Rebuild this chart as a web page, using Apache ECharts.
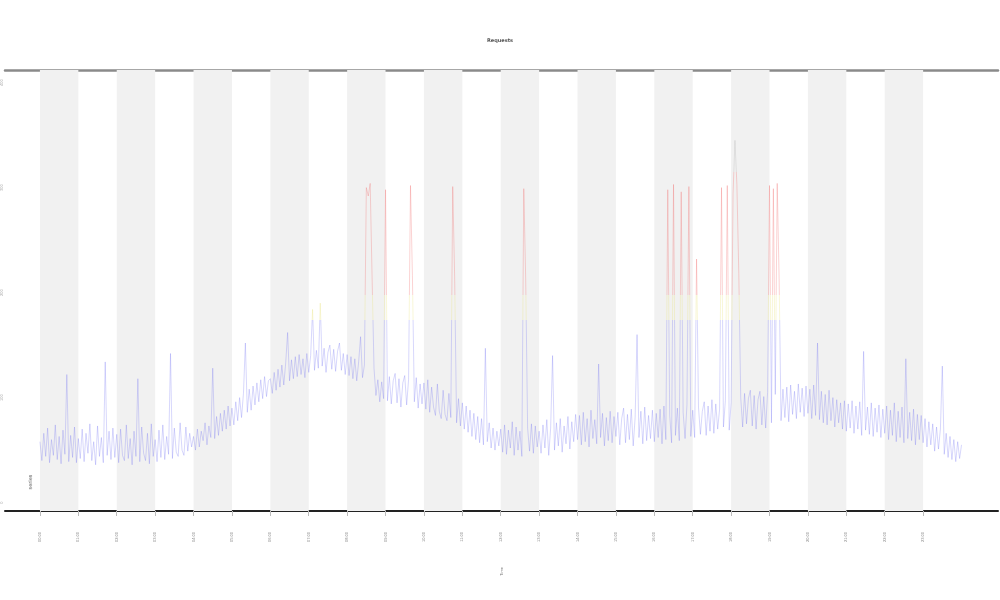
<!DOCTYPE html>
<html>
<head>
<meta charset="utf-8">
<script src="https://cdn.jsdelivr.net/npm/echarts@6/dist/echarts.min.js"></script>
<style>html,body{margin:0;padding:0;background:#fff}#c{width:1000px;height:600px}</style>
</head>
<body>
<div id="c"></div>
<script>
// time step between samples (hours)
const STEP = 0.05;
// sampled values, one row per hour (20 samples each), plus the final sample at 24h
const values = [
  58, 40, 66, 44, 71, 38, 60, 45, 74, 41, 63, 37, 69, 46, 122, 39, 64, 43, 72, 38,
  61, 42, 70, 39, 66, 47, 75, 40, 58, 36, 73, 44, 62, 38, 134, 45, 68, 41, 71, 43,
  65, 38, 70, 45, 40, 74, 42, 61, 36, 68, 44, 118, 39, 72, 47, 40, 66, 37, 75, 44,
  60, 39, 69, 43, 74, 41, 63, 46, 142, 42, 71, 48, 44, 76, 50, 45, 72, 49, 66, 53,
  63, 50, 70, 53, 68, 59, 76, 55, 73, 62, 128, 61, 82, 64, 85, 68, 88, 70, 92, 73,
  90, 74, 96, 78, 100, 81, 104, 152, 86, 108, 88, 111, 93, 114, 96, 117, 99, 120, 101, 116,
  118, 104, 124, 107, 127, 110, 131, 112, 133, 162, 116, 136, 118, 139, 120, 141, 122, 137, 119, 142,
  124, 140, 184, 126, 145, 128, 190, 130, 147, 124, 143, 150, 127, 146, 125, 144, 152, 126, 142, 122,
  141, 121, 139, 118, 137, 116, 134, 158, 119, 131, 300, 292, 304, 214, 128, 102, 117, 96, 115, 99,
  298, 97, 120, 94, 116, 123, 95, 118, 91, 114, 121, 93, 117, 302, 216, 96, 119, 90, 113, 94,
  114, 89, 117, 86, 110, 91, 83, 113, 87, 80, 107, 84, 78, 104, 81, 301, 215, 76, 99, 73,
  95, 70, 92, 67, 88, 63, 85, 60, 82, 57, 80, 55, 147, 58, 76, 52, 71, 50, 68, 54,
  70, 48, 74, 46, 69, 52, 77, 45, 72, 50, 68, 44, 299, 213, 71, 49, 75, 47, 73, 53,
  68, 47, 74, 52, 79, 45, 71, 140, 50, 76, 54, 80, 48, 73, 56, 82, 51, 77, 58, 84,
  60, 83, 55, 86, 58, 80, 53, 88, 61, 79, 56, 132, 62, 85, 54, 81, 59, 87, 57, 82,
  63, 86, 55, 80, 90, 57, 84, 60, 89, 54, 81, 160, 62, 87, 56, 91, 59, 83, 61, 88,
  58, 85, 62, 89, 56, 92, 60, 298, 83, 57, 303, 64, 90, 59, 296, 86, 61, 93, 301, 63,
  88, 62, 232, 91, 65, 87, 96, 64, 92, 68, 98, 66, 94, 70, 89, 300, 72, 97, 302, 69,
  95, 294, 345, 303, 218, 100, 72, 104, 75, 99, 107, 73, 102, 70, 98, 106, 74, 101, 71, 105,
  302, 76, 299, 103, 304, 213, 78, 108, 81, 110, 77, 112, 84, 106, 80, 113, 86, 109, 82, 111,
  85, 108, 80, 112, 83, 152, 79, 106, 76, 103, 74, 107, 78, 100, 72, 98, 76, 95, 70, 97,
  68, 94, 71, 97, 66, 92, 70, 96, 64, 144, 69, 91, 65, 95, 63, 90, 67, 93, 62, 89,
  66, 92, 60, 88, 64, 95, 58, 87, 62, 91, 57, 137, 61, 86, 59, 89, 55, 84, 60, 83,
  57, 80, 53, 77, 55, 75, 49, 72, 51, 70, 130, 46, 66, 43, 63, 41, 60, 39, 58, 42,
  55
];
// x tick positions (hours) and their labels
const hourTicks = [0,1,2,3,4,5,6,7,8,9,10,11,12,13,14,15,16,17,18,19,20,21,22,23];
const hourLabels = ['00:00','01:00','02:00','03:00','04:00','05:00','06:00','07:00','08:00','09:00','10:00','11:00',
                    '12:00','13:00','14:00','15:00','16:00','17:00','18:00','19:00','20:00','21:00','22:00','23:00'];
// y tick values
const yTicks = [0, 100, 200, 300, 400];
// shaded hour bands (start hours, each one hour wide)
const bandStarts = [0, 2, 4, 6, 8, 10, 12, 14, 16, 18, 20, 22];

const seriesData = values.map((v, i) => [+(i * STEP).toFixed(2), v]);

const chart = echarts.init(document.getElementById('c'), null, {renderer: 'canvas'});
chart.setOption({
  animation: false,
  backgroundColor: '#fff',
  title: {
    text: 'Requests',
    left: 'center',
    top: 33,
    textStyle: {fontSize: 5, color: '#555', fontWeight: 'bold', fontFamily: 'DejaVu Sans'}
  },
  grid: {left: 5, right: 2, top: 70, bottom: 89, containLabel: false, outerBoundsMode: 'none'},
  xAxis: [{
    type: 'value',
    min: -0.91,
    max: 24.95,
    position: 'bottom',
    name: 'Time',
    nameLocation: 'middle',
    nameGap: 56,
    nameRotate: 90,
    nameTextStyle: {fontSize: 4, color: '#777'},
    axisLine: {show: true, onZero: false, lineStyle: {color: '#222', width: 2}},
    axisTick: {show: true, customValues: hourTicks, length: 5, lineStyle: {color: '#bbb', width: 1}},
    axisLabel: {
      show: true,
      customValues: hourTicks,
      rotate: 90,
      fontSize: 4,
      margin: 21,
      color: '#888',
      formatter: (v) => hourLabels[Math.round(v)] || ''
    },
    splitLine: {show: false}
  }, {
    type: 'value',
    min: -0.91,
    max: 24.95,
    position: 'top',
    axisLine: {show: true, onZero: false, lineStyle: {color: '#8a8a8a', width: 2.5}},
    axisTick: {show: false},
    axisLabel: {show: false},
    splitLine: {show: false}
  }],
  yAxis: {
    type: 'value',
    min: -8,
    max: 412,
    name: 'Response time (ms)',
    nameLocation: 'middle',
    nameGap: 3,
    nameRotate: 90,
    nameTextStyle: {fontSize: 4, color: '#999'},
    axisLine: {show: false},
    axisTick: {show: false},
    splitLine: {show: false},
    axisLabel: {
      show: true,
      customValues: yTicks,
      rotate: 90,
      fontSize: 4,
      margin: 1,
      color: '#aaa'
    }
  },
  visualMap: {
    show: false,
    type: 'piecewise',
    seriesIndex: 0,
    dimension: 1,
    pieces: [
      {lt: 174, color: '#6a6af2'},
      {gte: 174, lt: 198, color: '#e6df6a'},
      {gte: 198, lt: 315, color: '#f05a5a'},
      {gte: 315, color: '#a8a8a8'}
    ]
  },
  graphic: [{
    type: 'text',
    x: 31,
    y: 482,
    rotation: Math.PI / 2,
    style: {text: 'series', fontSize: 5, fill: '#555', align: 'center', verticalAlign: 'middle', fontFamily: 'DejaVu Sans'}
  }],
  series: [{
    type: 'line',
    name: 'series',
    xAxisIndex: 0,
    data: seriesData,
    showSymbol: false,
    symbol: 'none',
    sampling: 'none',
    silent: true,
    lineStyle: {width: 0.6, opacity: 0.45},
    markArea: {
      silent: true,
      itemStyle: {color: '#f1f1f1'},
      data: bandStarts.map(s => [{xAxis: s}, {xAxis: s + 1}])
    },
    z: 2
  }]
});
</script>
</body>
</html>
